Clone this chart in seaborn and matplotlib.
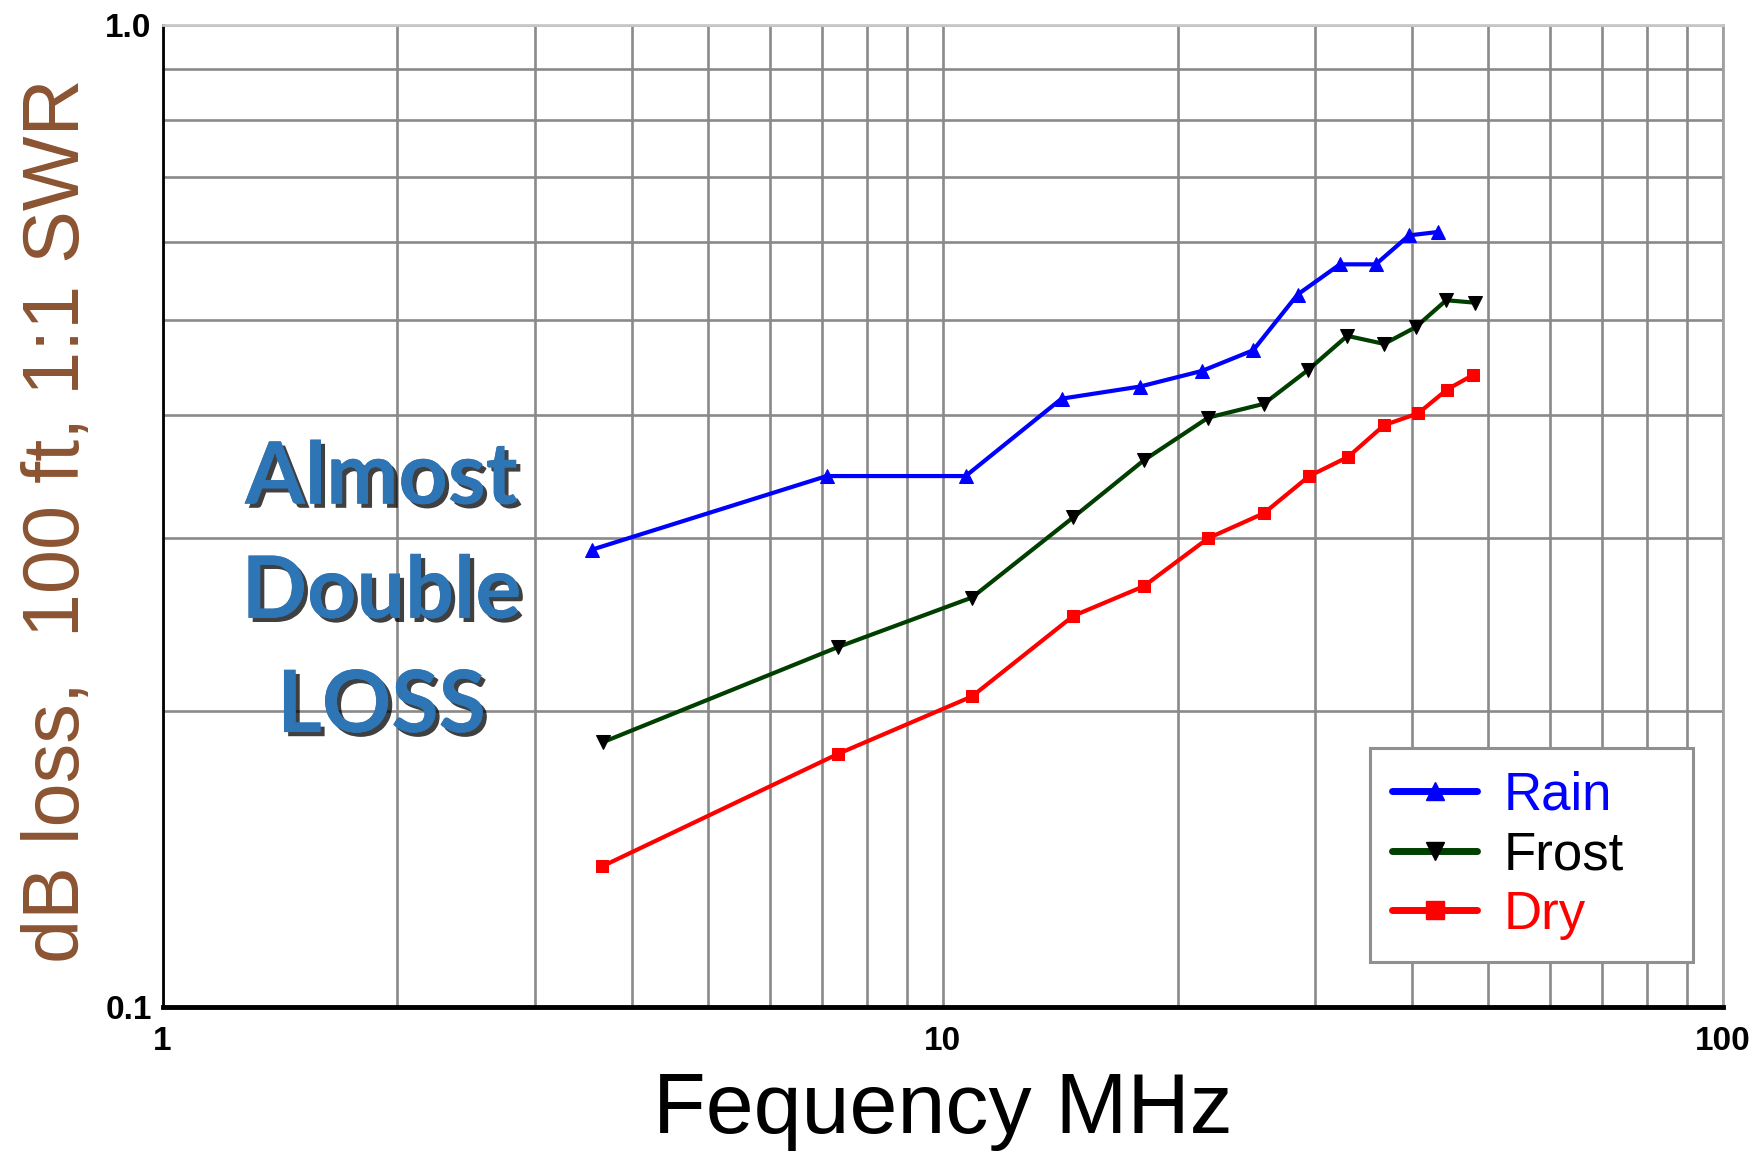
import matplotlib
matplotlib.use("Agg")
import matplotlib.pyplot as plt
import matplotlib.patheffects as pe
from matplotlib.lines import Line2D
from matplotlib.ticker import FixedLocator, NullFormatter, LogLocator
import numpy as np
import pandas as pd
import seaborn as sns

# ── Data ────────────────────────────────────────────────────────────────────
rain_mhz = [3.55, 7.1, 10.7, 14.2, 17.9, 21.5, 25.0, 28.5, 32.3, 35.9, 39.6, 43.2]
rain_db = [0.292, 0.347, 0.347, 0.416, 0.428, 0.444, 0.466, 0.531, 0.570, 0.570, 0.610, 0.615]

frost_mhz = [3.67, 7.35, 10.9, 14.7, 18.1, 21.9, 25.8, 29.4, 33.0, 36.8, 40.4, 44.2, 48.1]
frost_db = [0.186, 0.2325, 0.261, 0.315, 0.360, 0.398, 0.411, 0.445, 0.482, 0.473, 0.492, 0.524, 0.521]

dry_mhz = [3.66, 7.35, 10.9, 14.7, 18.1, 21.9, 25.8, 29.5, 33.1, 36.8, 40.7, 44.3, 47.9]
dry_db = [0.139, 0.181, 0.207, 0.250, 0.268, 0.300, 0.318, 0.347, 0.363, 0.391, 0.402, 0.425, 0.440]

series_names = ["Rain", "Frost", "Dry"]
x_ticks = [1, 10, 100]
x_tick_labels = ["1", "10", "100"]
y_ticks = [0.1, 1.0]
y_tick_labels = ["0.1", "1.0"]

# ── Style ───────────────────────────────────────────────────────────────────
sns.set_theme(style="white")
plt.rcParams["font.family"] = ["Liberation Sans", "DejaVu Sans"]

fig = plt.figure(figsize=(17.58, 11.68), dpi=100)
ax = fig.add_axes([0.0925, 0.138, 0.8875, 0.841])

styles = {
    "Rain": dict(color="#0000FF", marker="^", mfc="#0000FF", mec="#0000FF", ms=10),
    "Frost": dict(color="#003F00", marker="v", mfc="#000000", mec="#000000", ms=10),
    "Dry": dict(color="#FF0000", marker="s", mfc="#FF0000", mec="#FF0000", ms=9),
}
series = {
    "Rain": (rain_mhz, rain_db),
    "Frost": (frost_mhz, frost_db),
    "Dry": (dry_mhz, dry_db),
}

for name in series_names:
    xs, ys = series[name]
    df = pd.DataFrame({"mhz": xs, "db": ys})
    st = styles[name]
    sns.lineplot(
        data=df, x="mhz", y="db", ax=ax, sort=False,
        color=st["color"], marker=st["marker"], markersize=st["ms"],
        markerfacecolor=st["mfc"], markeredgecolor=st["mec"],
        linewidth=3.0, zorder=3,
    )

# ── Axes ────────────────────────────────────────────────────────────────────
ax.set_xscale("log")
ax.set_yscale("log")
ax.set_xlim(1, 100)
ax.set_ylim(0.1, 1.0)

ax.xaxis.set_major_locator(FixedLocator(x_ticks))
ax.set_xticklabels(x_tick_labels)
ax.xaxis.set_minor_locator(LogLocator(base=10, subs=np.arange(2, 10)))
ax.xaxis.set_minor_formatter(NullFormatter())
ax.yaxis.set_major_locator(FixedLocator(y_ticks))
ax.set_yticklabels(y_tick_labels)
ax.yaxis.set_minor_locator(LogLocator(base=10, subs=np.arange(2, 10)))
ax.yaxis.set_minor_formatter(NullFormatter())

for lab in ax.get_xticklabels() + ax.get_yticklabels():
    lab.set_fontweight("bold")
    lab.set_fontsize(24)
    lab.set_color("black")

ax.tick_params(axis="both", which="both", direction="in", length=5, width=1.5, color="black")
ax.tick_params(axis="x", which="major", pad=14)
ax.tick_params(axis="y", which="major", pad=8)

ax.grid(True, which="both", color="#8a8a8a", linewidth=1.9)
ax.set_axisbelow(True)

ax.spines["left"].set_color("black")
ax.spines["left"].set_linewidth(2.0)
ax.spines["bottom"].set_color("black")
ax.spines["bottom"].set_linewidth(3.5)
ax.spines["top"].set_color("#c8c8c8")
ax.spines["top"].set_linewidth(2.0)
ax.spines["right"].set_color("#a0a0a0")
ax.spines["right"].set_linewidth(2.0)

ax.set_xlabel("Fequency MHz", fontsize=62, color="black", labelpad=10)
ax.set_ylabel("dB loss,  100 ft, 1:1 SWR", fontsize=57, color="#8B5331")
ax.yaxis.set_label_coords(-0.043, 0.495)

# ── Legend ──────────────────────────────────────────────────────────────────
handles = [
    Line2D([], [], color=styles[n]["color"], marker=styles[n]["marker"],
           markerfacecolor=styles[n]["mfc"], markeredgecolor=styles[n]["mec"],
           markersize=13, linewidth=5)
    for n in series_names
]
leg = ax.legend(
    handles, series_names, loc="lower left",
    bbox_to_anchor=(0.774, 0.0458, 0.207, 0.2), mode="expand", borderaxespad=0,
    fontsize=38, labelcolor=["#0000FF", "#000000", "#FF0000"],
    frameon=True, fancybox=False, shadow=False, handlelength=1.6,
    handletextpad=0.5, labelspacing=0.18, borderpad=0.42,
)
leg.get_frame().set_edgecolor("#909090")
leg.get_frame().set_linewidth(2.2)
leg.get_frame().set_facecolor("white")
leg.get_frame().set_alpha(1.0)

# ── Annotation ──────────────────────────────────────────────────────────────
fig.text(
    0.217, 0.492, "Almost\nDouble\nLOSS",
    ha="center", va="center", family=["Lato", "DejaVu Sans"], fontweight="bold",
    fontsize=62, color="#2E75B6", linespacing=1.55, zorder=5,
    path_effects=[pe.withSimplePatchShadow(offset=(3, -3), shadow_rgbFace="black", alpha=0.75),
                  pe.Normal()],
)

fig.savefig("out.png", dpi=100)
